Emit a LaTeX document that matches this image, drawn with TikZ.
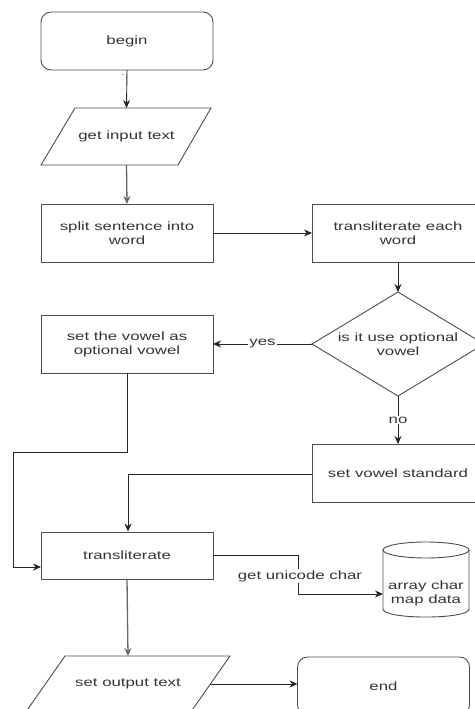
\documentclass[tikz,border=0pt]{standalone}
\usepackage{fontspec}
\setmainfont{Liberation Sans}[FakeStretch=1.4]
\usetikzlibrary{shapes.geometric,arrows.meta}
\tikzset{
  txt/.style={font=\fontsize{12}{14}\selectfont, text=black!80, align=center, inner sep=0pt, outer sep=0pt},
  shp/.style={draw=black!70, line width=0.9pt, txt},
  outline/.style={draw=black!70, line width=0.9pt, line join=miter},
  box/.style={shp, rectangle, minimum width=172pt, minimum height=58pt},
  rbox/.style={box, rounded corners=10pt},
  dec/.style={shp, diamond, minimum width=172pt, minimum height=104pt},
  conn/.style={draw=black!85, line width=0.9pt},
  arr/.style={conn, -{Stealth[length=8pt,width=7pt]}},
  lbl/.style={txt, fill=white, inner sep=1pt},
}
\begin{document}
\begin{tikzpicture}[x=1pt,y=-1pt]
\useasboundingbox (0,0) rectangle (474,709);
% nodes
\node[rbox] (begin) at (127,41) {begin};
\draw[outline] (75,108) -- (211,108) -- (178,165) -- (41,165) -- cycle;
\node[txt, minimum width=136pt, minimum height=57pt] (inp) at (126.5,136.5) {get input text};
\node[box] (split) at (127,233) {split sentence into\\word};
\node[box] (tew) at (398,233) {transliterate each\\word};
\node[dec] (dia) at (398,344) {};
\node[txt] (diatxt) at (398,344) {is it use optional\\vowel};
\node[box] (opt) at (127,344) {set the vowel as\\optional vowel};
\node[box] (std) at (398,473) {set vowel standard};
\node[box, minimum height=47pt] (trl) at (127,555.5) {transliterate};
\draw[outline] (65,656) -- (230,656) -- (190.8,712) -- (25.8,712) -- cycle;
\node[txt, minimum width=165pt, minimum height=56pt] (out) at (128,684) {set output text};
\coordinate (oute) at (210.4,684);
\node[rbox] (end) at (383.5,686) {end};
% cylinder
\node[inner sep=0pt, outer sep=0pt, minimum width=86pt, minimum height=75pt] (cyl) at (426,579.5) {};
\draw[outline] (cyl.north west |- {(0,550)}) -- (cyl.west |- {(0,609)})
  .. controls (383,619.7) and (469,619.7) .. (cyl.east |- {(0,609)}) -- (cyl.east |- {(0,550)});
\draw[outline] (426,550) ellipse [x radius=43pt, y radius=8pt];
\node[txt] (cyltxt) at (426,593) {array char\\map data};
% connectors
\draw[arr] (begin.south) -- (inp.north);
\node[txt, font=\fontsize{8}{8}\selectfont] (dot) at (123,75) {.};
\draw[arr, draw=black!60, line width=1.3pt] (inp.south) -- (split.north);
\draw[arr] (split.east) -- (tew.west);
\draw[arr] (tew.south) -- (dia.north);
\draw[arr] (dia.west) -- node[lbl] (yes) {yes} (opt.east);
\draw[arr] (dia.south) -- node[lbl, pos=0.5] (no) {no} (std.north);
\coordinate (c1) at (128,474);
\draw[arr] (std.west |- c1) -- (c1) -- (128,531.5);
\coordinate (c2) at (13,452);
\coordinate (c3) at (13,567);
\draw[arr] (opt.south) -- (opt.south |- c2) -- (c2) -- (c3) -- (trl.west |- c3);
\coordinate (c4) at (298,555.5);
\coordinate (c5) at (298,594);
\draw[arr] (trl.east) -- (c4) -- (c5) -- (cyl.west |- c5);
\node[lbl] (guc) at (300,576) {get unicode char};
\draw[arr, draw=black!60, line width=1.3pt] (trl.south) -- (out.north);
\draw[arr] (oute) -- (end.west |- oute);
\end{tikzpicture}
\end{document}
